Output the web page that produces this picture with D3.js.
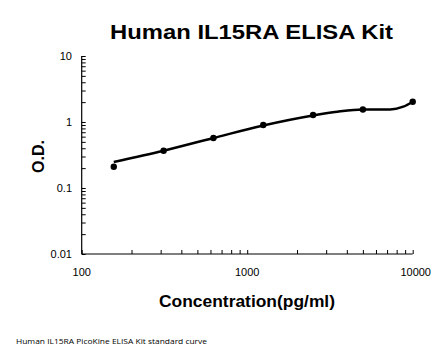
<!DOCTYPE html>
<html><head><meta charset="utf-8">
<script src="https://cdn.jsdelivr.net/npm/d3@7"></script>
<style>body{margin:0;background:#fff}svg{display:block}</style>
</head><body>
<script>
const title = "Human IL15RA ELISA Kit";
const xLabel = "Concentration(pg/ml)";
const yLabel = "O.D.";
const footnote = "Human IL15RA PicoKine ELISA Kit standard curve";
const concentrations = [156.25, 312.5, 625, 1250, 2500, 5000, 10000];
const odValues = [0.21, 0.367, 0.572, 0.90, 1.276, 1.55, 2.03];
const curveConc = [156.25, 312.5, 625, 1250, 2500, 3500, 5000, 7300, 8770, 10000];
const curveOD = [0.248, 0.367, 0.572, 0.885, 1.254, 1.43, 1.55, 1.55, 1.705, 2.03];
const xTickValues = [100, 1000, 10000];
const yTickValues = [0.01, 0.1, 1, 10];

const W = 446, H = 356;
const svg = d3.select("body").append("svg").attr("width", W).attr("height", H);
const x = d3.scaleLog().domain([100, 10000]).range([81.7, 412.7]);
const y = d3.scaleLog().domain([0.01, 10]).range([254, 56]);

const minorX = [], minorY = [];
[100, 1000].forEach(d => { for (let k = 2; k <= 9; k++) minorX.push(d * k); });
[0.01, 0.1, 1].forEach(d => { for (let k = 2; k <= 9; k++) minorY.push(d * k); });

const font = "'Liberation Sans', Arial, sans-serif";

// x axis
const gx = svg.append("g").attr("transform", "translate(0,254)");
gx.call(d3.axisTop(x).tickValues(xTickValues.concat(minorX)).tickSize(4).tickFormat(""));
gx.select(".domain").attr("d", `M${x.range()[0]},0H${x.range()[1]}`).attr("stroke-width", 1.2);
gx.selectAll(".tick line").attr("stroke-width", 1);
svg.append("g").selectAll("text").data(xTickValues).join("text")
  .attr("x", d => x(d) + (d === 10000 ? 3 : 0)).attr("y", 276).attr("text-anchor", "middle")
  .attr("font-family", font).attr("font-size", 11).text(d => d);

// y axis
const gy = svg.append("g").attr("transform", "translate(81.7,0)");
gy.call(d3.axisRight(y).tickValues(yTickValues.concat(minorY)).tickSize(4).tickFormat(""));
gy.select(".domain").attr("d", `M0,${y.range()[0]}V${y.range()[1]}`).attr("stroke-width", 1.2);
gy.selectAll(".tick line").attr("stroke-width", 1);
svg.append("g").selectAll("text").data(yTickValues).join("text")
  .attr("x", 72).attr("y", d => y(d) + 4).attr("text-anchor", "end")
  .attr("font-family", font).attr("font-size", 11).text(d => d);

// curve
const line = d3.line().x(d => x(d[0])).y(d => y(d[1])).curve(d3.curveMonotoneX);
svg.append("path").datum(curveConc.map((c, i) => [c, curveOD[i]]))
  .attr("d", line).attr("fill", "none").attr("stroke", "#000").attr("stroke-width", 2.5);

// points
svg.append("g").selectAll("circle").data(concentrations.map((c, i) => [c, odValues[i]])).join("circle")
  .attr("cx", d => x(d[0])).attr("cy", d => y(d[1])).attr("r", 3.2).attr("fill", "#000");

// title
svg.append("text").attr("x", 251.5).attr("y", 38.5).attr("text-anchor", "middle")
  .attr("font-family", font).attr("font-weight", "bold").attr("font-size", 21)
  .attr("textLength", 283).attr("lengthAdjust", "spacingAndGlyphs").text(title);
// x label
svg.append("text").attr("x", 247).attr("y", 306.5).attr("text-anchor", "middle")
  .attr("font-family", font).attr("font-weight", "bold").attr("font-size", 16)
  .attr("textLength", 176).attr("lengthAdjust", "spacingAndGlyphs").text(xLabel);
// y label
svg.append("text").attr("transform", "translate(44,156.5) rotate(-90)").attr("text-anchor", "middle")
  .attr("font-family", font).attr("font-weight", "bold").attr("font-size", 16)
  .attr("textLength", 33).attr("lengthAdjust", "spacingAndGlyphs").text(yLabel);
// footnote
svg.append("text").attr("x", 16).attr("y", 343.5)
  .attr("font-family", "'Open Sans', 'Liberation Sans', sans-serif").attr("font-size", 7)
  .attr("textLength", 191).attr("lengthAdjust", "spacingAndGlyphs").text(footnote);
</script>
</body></html>
